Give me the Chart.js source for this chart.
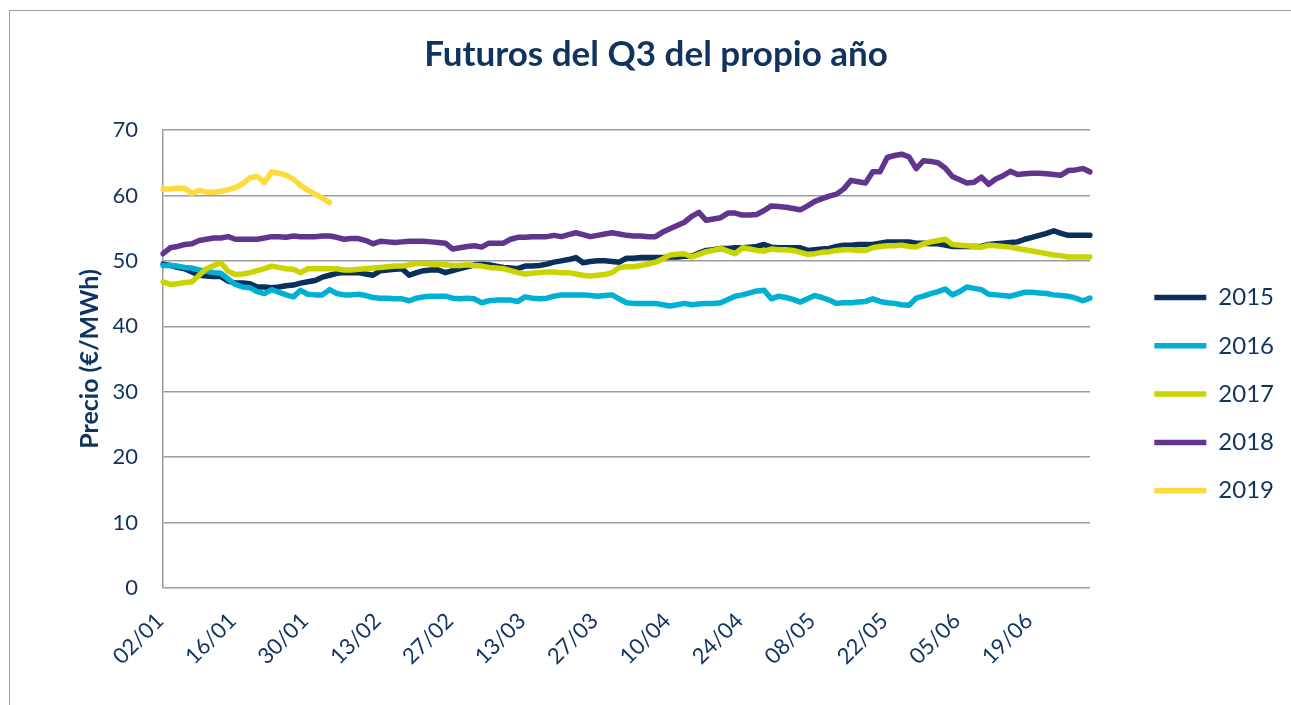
<!DOCTYPE html>
<html>
<head>
<meta charset="utf-8">
<script src="https://cdn.jsdelivr.net/npm/chart.js@4/dist/chart.umd.min.js"></script>
<style>
  html, body { margin: 0; padding: 0; background: #fff; }
  #frame { position: absolute; left: 9px; top: 10px; width: 1300px; height: 720px; border: 1.5px solid #9ea0a7; }
  #chart { position: absolute; left: 0; top: 0; }
</style>
</head>
<body>
<div id="frame"></div>
<canvas id="chart" width="1291" height="705"></canvas>
<script>
// dias habiles desde el 02/01 (129 sesiones)
const startDay = "2019-01-02";
const sessions = 129;
const labelStep = 10;

const yTicks = [0, 10, 20, 30, 40, 50, 60, 70];
const seriesNames = ["2015", "2016", "2017", "2018", "2019"];
const seriesColors = ["#0b2f5b", "#00afd4", "#c9d400", "#61348d", "#ffda3c"];

const v2015 = [
  49.5, 49.3, 49.0, 48.8, 48.3, 47.8, 47.7, 47.6, 47.6, 46.9,
  46.6, 46.6, 46.5, 46.0, 46.0, 45.9, 46.0, 46.2, 46.3, 46.6,
  46.8, 47.0, 47.5, 47.8, 48.1, 48.2, 48.2, 48.2, 48.0, 47.8,
  48.5, 48.6, 48.7, 48.8, 47.8, 48.2, 48.5, 48.6, 48.6, 48.2,
  48.5, 48.8, 49.1, 49.4, 49.5, 49.4, 49.2, 49.0, 48.9, 48.8,
  49.2, 49.2, 49.3, 49.5, 49.8, 50.0, 50.2, 50.5, 49.7, 49.9,
  50.0, 50.0, 49.9, 49.8, 50.4, 50.4, 50.5, 50.5, 50.5, 50.5,
  50.6, 50.6, 50.7, 50.7, 51.2, 51.6, 51.7, 51.9, 51.9, 52.0,
  52.0, 52.1, 52.2, 52.5, 52.1, 52.0, 52.0, 52.0, 52.0, 51.6,
  51.7, 51.8, 51.9, 52.2, 52.4, 52.4, 52.5, 52.5, 52.5, 52.7,
  52.9, 52.9, 52.9, 52.9, 52.7, 52.7, 52.6, 52.6, 52.4, 52.2,
  52.2, 52.2, 52.2, 52.2, 52.5, 52.6, 52.7, 52.8, 52.9, 53.3,
  53.6, 53.9, 54.2, 54.6, 54.2, 53.9, 53.9, 53.9, 53.9
];
const v2016 = [
  49.3, 49.3, 49.2, 49.0, 48.9, 48.6, 48.4, 48.2, 48.1, 47.2,
  46.4, 46.0, 45.9, 45.3, 45.0, 45.6, 45.2, 44.8, 44.5, 45.5,
  44.9, 44.8, 44.8, 45.6, 45.0, 44.8, 44.8, 44.9, 44.7, 44.4,
  44.3, 44.3, 44.2, 44.2, 43.9, 44.3, 44.5, 44.6, 44.6, 44.6,
  44.3, 44.2, 44.3, 44.2, 43.6, 43.9, 44.0, 44.0, 44.0, 43.8,
  44.5, 44.3, 44.2, 44.3, 44.6, 44.8, 44.8, 44.8, 44.8, 44.7,
  44.6, 44.7, 44.8, 44.2, 43.6, 43.5, 43.5, 43.5, 43.5, 43.3,
  43.1, 43.3, 43.5, 43.3, 43.4, 43.5, 43.5, 43.6, 44.1, 44.6,
  44.8, 45.1, 45.4, 45.5, 44.2, 44.6, 44.4, 44.1, 43.7, 44.2,
  44.7, 44.4, 44.0, 43.5, 43.6, 43.6, 43.7, 43.8, 44.2, 43.8,
  43.6, 43.5, 43.3, 43.2, 44.3, 44.6, 45.0, 45.3, 45.7, 44.8,
  45.3, 46.0, 45.8, 45.6, 44.9, 44.8, 44.7, 44.6, 44.9, 45.2,
  45.2, 45.1, 45.0, 44.8, 44.7, 44.6, 44.3, 43.9, 44.3
];
const v2017 = [
  46.8, 46.4, 46.5, 46.7, 46.8, 47.8, 48.8, 49.3, 49.7, 48.4,
  47.9, 48.0, 48.2, 48.5, 48.8, 49.2, 49.0, 48.8, 48.7, 48.2,
  48.8, 48.8, 48.8, 48.8, 48.8, 48.6, 48.6, 48.7, 48.8, 48.9,
  49.0, 49.1, 49.2, 49.2, 49.4, 49.6, 49.6, 49.5, 49.5, 49.4,
  49.3, 49.3, 49.4, 49.3, 49.2, 49.0, 48.9, 48.8, 48.5, 48.2,
  48.0, 48.1, 48.2, 48.3, 48.3, 48.2, 48.2, 48.0, 47.8, 47.7,
  47.8, 47.9, 48.2, 49.0, 49.1, 49.1, 49.3, 49.5, 49.8, 50.3,
  50.9, 51.0, 51.1, 50.6, 51.0, 51.4, 51.6, 51.9, 51.5, 51.1,
  52.0, 51.8, 51.6, 51.5, 51.8, 51.7, 51.7, 51.6, 51.3, 51.0,
  51.1, 51.3, 51.4, 51.6, 51.7, 51.7, 51.6, 51.6, 52.0, 52.2,
  52.3, 52.3, 52.4, 52.2, 52.1, 52.6, 52.9, 53.1, 53.3, 52.5,
  52.4, 52.3, 52.2, 52.1, 52.4, 52.3, 52.2, 52.1, 51.9, 51.7,
  51.5, 51.3, 51.1, 50.9, 50.8, 50.6, 50.6, 50.6, 50.6
];
const v2018 = [
  51.1, 52.0, 52.2, 52.5, 52.6, 53.1, 53.3, 53.5, 53.5, 53.7,
  53.3, 53.3, 53.3, 53.3, 53.5, 53.7, 53.7, 53.6, 53.8, 53.7,
  53.7, 53.7, 53.8, 53.8, 53.6, 53.3, 53.4, 53.4, 53.1, 52.6,
  53.0, 52.9, 52.8, 52.9, 53.0, 53.0, 53.0, 52.9, 52.8, 52.7,
  51.8, 52.0, 52.2, 52.3, 52.1, 52.7, 52.7, 52.7, 53.3, 53.6,
  53.6, 53.7, 53.7, 53.7, 53.9, 53.7, 54.0, 54.3, 54.0, 53.7,
  53.9, 54.1, 54.3, 54.1, 53.9, 53.8, 53.8, 53.7, 53.7, 54.4,
  54.9, 55.4, 55.9, 56.8, 57.4, 56.2, 56.4, 56.6, 57.3, 57.3,
  57.0, 57.0, 57.1, 57.7, 58.4, 58.3, 58.2, 58.0, 57.8, 58.4,
  59.1, 59.5, 59.9, 60.2, 61.0, 62.3, 62.1, 61.9, 63.6, 63.6,
  65.8, 66.1, 66.3, 65.9, 64.1, 65.3, 65.2, 65.0, 64.2, 62.9,
  62.4, 61.9, 62.0, 62.8, 61.7, 62.5, 63.0, 63.7, 63.2, 63.3,
  63.4, 63.4, 63.3, 63.2, 63.1, 63.8, 63.9, 64.1, 63.6
];
const v2019 = [
  61.0, 61.0, 61.1, 61.1, 60.3, 60.8, 60.5, 60.5, 60.6, 60.9,
  61.2, 61.8, 62.7, 62.9, 62.0, 63.6, 63.4, 63.1, 62.5, 61.5,
  60.8, 60.2, 59.6, 58.9
];

// etiquetas dd/mm de los dias laborables
function buildLabels() {
  const out = [];
  const d = new Date(startDay + "T00:00:00Z");
  while (out.length < sessions) {
    const wd = d.getUTCDay();
    if (wd !== 0 && wd !== 6) {
      const dd = String(d.getUTCDate()).padStart(2, "0");
      const mm = String(d.getUTCMonth() + 1).padStart(2, "0");
      out.push(dd + "/" + mm);
    }
    d.setUTCDate(d.getUTCDate() + 1);
  }
  return out;
}
const dayLabels = buildLabels();

const textColor = "#10335f";
const gridColor = "#9a9ca4";
const font = "Lato";

const allValues = [v2015, v2016, v2017, v2018, v2019];

new Chart(document.getElementById("chart"), {
  type: "line",
  data: {
    labels: dayLabels,
    datasets: seriesNames.map((name, i) => ({
      label: name,
      data: allValues[i],
      borderColor: seriesColors[i],
      backgroundColor: seriesColors[i],
      borderWidth: 5.5,
      borderCapStyle: "round",
      borderJoinStyle: "round",
      pointRadius: 0,
      tension: 0,
      order: 10 - i,
    })),
  },
  options: {
    responsive: false,
    maintainAspectRatio: false,
    animation: false,
    layout: { padding: { left: 28, right: 7, top: 0, bottom: 0 } },
    plugins: {
      tooltip: { enabled: false },
      title: {
        display: true,
        text: "Futuros del Q3 del propio año",
        color: textColor,
        font: { family: font, size: 35, weight: "bold" },
        padding: { top: 34, bottom: 54 },
      },
      legend: {
        position: "right",
        title: { display: true, text: "", font: { size: 10, lineHeight: 1 }, padding: 36.6 },
        labels: {
          usePointStyle: true,
          pointStyle: "line",
          pointStyleWidth: 52,
          padding: 24.3,
          color: textColor,
          font: { family: font, size: 24 },
          sort: (a, b) => a.datasetIndex - b.datasetIndex,
        },
      },
    },
    scales: {
      x: {
        grid: { display: false },
        border: { display: false },
        ticks: {
          autoSkip: false,
          maxRotation: 45,
          minRotation: 45,
          padding: 12,
          labelOffset: -3,
          color: textColor,
          font: { family: font, size: 22 },
          callback: (v, i) => (i % labelStep === 0 ? dayLabels[i] : ""),
        },
        afterFit: (s) => { s.height = 117; },
      },
      y: {
        min: 0,
        max: 70,
        afterBuildTicks: (s) => { s.ticks = yTicks.map((v) => ({ value: v })); },
        grid: { color: gridColor, lineWidth: 1.5, drawTicks: false },
        border: { display: true, color: gridColor, width: 1.5 },
        ticks: { padding: 25, color: textColor, font: { family: font, size: 22 } },
        title: {
          display: true,
          text: "Precio (€/MWh)",
          color: textColor,
          font: { family: font, size: 25, weight: "bold" },
          padding: { top: 47 },
        },
        afterFit: (s) => { s.width = 135; },
      },
      gap: {
        position: "right",
        display: true,
        grid: { display: false },
        border: { display: false },
        ticks: { display: false },
        afterFit: (s) => { s.width = 40; },
      },
    },
  },
});
</script>
</body>
</html>
